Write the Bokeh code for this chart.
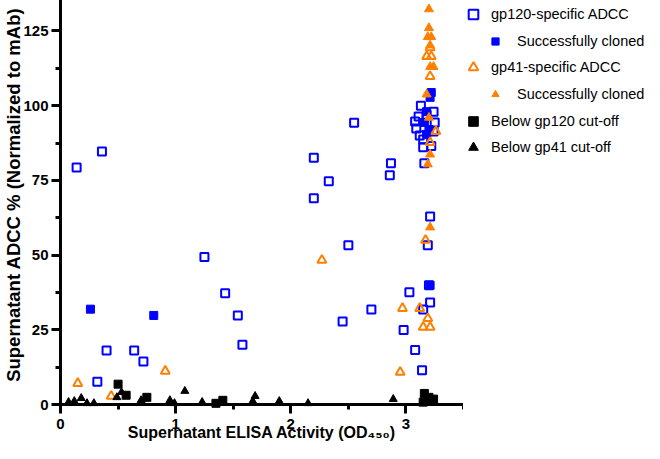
from bokeh.plotting import figure
from bokeh.layouts import row
from bokeh.models import Range1d, SingleIntervalTicker, Legend, LegendItem
from bokeh.embed import file_html
from bokeh.resources import INLINE

# ---------------- data ----------------
gp120_adcc_x = [0.14, 0.36, 0.32, 0.40, 0.64, 0.72, 1.25, 1.43, 1.54, 1.58,
                2.20, 2.33, 2.20, 2.55, 2.50, 2.45, 2.70, 2.87, 2.86, 3.03,
                2.98, 3.08, 3.14, 3.15, 3.21, 3.20, 3.21, 3.19, 3.13, 3.11,
                3.24, 3.08, 3.25, 3.09, 3.24, 3.15, 3.22, 3.15, 3.16, 3.18, 3.12]
gp120_adcc_y = [79.3, 84.7, 7.6, 18.1, 18.1, 14.4, 49.4, 37.2, 29.8, 20.0,
                82.6, 74.7, 69.0, 94.3, 53.3, 27.8, 31.8, 80.7, 76.7, 37.6,
                24.9, 18.2, 11.5, 31.8, 34.1, 39.9, 62.9, 53.3, 100.0, 96.4,
                98.0, 94.7, 94.4, 92.4, 91.4, 88.7, 86.5, 86.1, 80.7, 97.0, 90.0]

gp120_cloned_x = [0.26, 0.81, 3.22, 3.21, 3.18, 3.20, 3.18, 3.16, 3.21]
gp120_cloned_y = [31.9, 29.8, 104.4, 102.8, 98.0, 92.0, 90.4, 94.4, 39.9]

gp41_adcc_x = [0.15, 0.44, 0.91, 2.27, 2.95, 2.97, 3.12, 3.19, 3.15, 3.21,
               3.17, 3.26, 3.21, 3.21, 3.18, 3.22, 3.21]
gp41_adcc_y = [7.1, 2.8, 11.2, 48.3, 10.8, 32.2, 32.2, 28.8, 25.9, 25.9,
               55.0, 91.4, 87.7, 119.4, 116.5, 116.5, 109.8]

gp41_cloned_x = [3.20, 3.20, 3.22, 3.19, 3.21, 3.21, 3.24, 3.20, 3.21, 3.19, 3.18, 3.21]
gp41_cloned_y = [132.3, 126.0, 123.0, 123.0, 120.2, 113.0, 113.0, 96.0, 83.7, 80.4, 103.8, 59.3]

below_gp120_x = [0.50, 0.57, 0.75, 1.35, 1.41, 3.16, 3.20, 3.15, 3.22, 3.24]
below_gp120_y = [6.8, 3.1, 2.4, 0.4, 1.4, 3.7, 2.4, 0.8, 1.1, 1.8]

below_gp41_x = [0.07, 0.12, 0.18, 0.23, 0.29, 0.49, 0.53, 0.70, 0.95, 0.99,
                1.08, 1.23, 1.67, 1.69, 1.90, 2.15, 2.89, 3.14, 3.18]
below_gp41_y = [0.8, 1.1, 2.1, 0.4, 0.4, 2.4, 4.1, 1.4, 1.4, 0.4,
                4.5, 0.8, 1.1, 2.8, 1.1, 0.4, 1.8, 0.4, 0.6]

legend_labels = ["gp120-specific ADCC", "Successfully cloned", "gp41-specific ADCC",
                 "Successfully cloned", "Below gp120 cut-off", "Below gp41 cut-off"]

x_label = "Supernatant ELISA Activity (OD\u2084\u2085\u2080)"
y_label = "Supernatant ADCC % (Normalized to mAb)"

BLUE = "#0000ff"
ORANGE = "#ff8000"
BLACK = "#000000"
FONT = "Liberation Sans"

# series styles: (marker, size, fill, line, line_width)
styles = [
    ("square", 8, None, BLUE, 2),
    ("square", 8, BLUE, BLUE, 1),
    ("triangle", 9, None, ORANGE, 2),
    ("triangle", 9, ORANGE, ORANGE, 1),
    ("square", 8, BLACK, BLACK, 1),
    ("triangle", 8, BLACK, BLACK, 1),
]
series = [
    (gp120_adcc_x, gp120_adcc_y),
    (gp120_cloned_x, gp120_cloned_y),
    (gp41_adcc_x, gp41_adcc_y),
    (gp41_cloned_x, gp41_cloned_y),
    (below_gp120_x, below_gp120_y),
    (below_gp41_x, below_gp41_y),
]

# ---------------- main figure ----------------
p = figure(width=463, height=443, output_backend="svg", toolbar_location=None,
           x_range=Range1d(0, 3.5), y_range=Range1d(0, 135.2),
           min_border_left=58, min_border_right=0, min_border_top=0, min_border_bottom=38)
p.grid.visible = False
p.outline_line_color = None
p.background_fill_color = "white"
p.border_fill_color = "white"

p.xaxis.ticker = SingleIntervalTicker(interval=1, num_minor_ticks=2)
p.yaxis.ticker = SingleIntervalTicker(interval=25, num_minor_ticks=2)
for ax in (p.xaxis[0], p.yaxis[0]):
    ax.axis_line_width = 3
    ax.axis_line_cap = "square"
    ax.major_tick_line_width = 3
    ax.minor_tick_line_width = 3
    ax.major_tick_out = 9
    ax.major_tick_in = 0
    ax.minor_tick_out = 5
    ax.minor_tick_in = 0
    ax.major_label_text_font = FONT
    ax.major_label_text_font_style = "bold"
    ax.major_label_text_font_size = "15px"
    ax.major_label_text_color = "black"
    ax.axis_label_text_font = FONT
    ax.axis_label_text_font_style = "bold"
    ax.axis_label_text_color = "black"
p.xaxis.axis_label_text_font_size = "16px"
p.yaxis.axis_label_text_font_size = "18.5px"
p.xaxis.major_label_standoff = 5
p.yaxis.major_label_standoff = 3
p.xaxis.axis_label = x_label
# three leading no-break spaces nudge the centred title slightly upwards, as in the reference
p.yaxis.axis_label = "\u00a0\u00a0\u00a0" + y_label
p.xaxis.axis_label_standoff = -8
p.yaxis.axis_label_standoff = -4

for (xs, ys), (mk, sz, fc, lc, lw) in zip(series, styles):
    p.scatter(xs, ys, marker=mk, size=sz, fill_color=fc, line_color=lc,
              line_width=lw, level="overlay")

# ---------------- legend figure ----------------
leg = figure(width=181, height=443, output_backend="svg", toolbar_location=None,
             x_axis_type=None, y_axis_type=None, x_range=Range1d(0, 1), y_range=Range1d(0, 1),
             min_border_left=0, min_border_right=0, min_border_top=0, min_border_bottom=38)
leg.grid.visible = False
leg.outline_line_color = None
leg.background_fill_color = "white"
leg.border_fill_color = "white"

# legend swatches: one hidden point each, outside the visible range
keys = []
for (mk, sz, fc, lc, lw) in styles:
    keys.append(leg.scatter([-5], [-5], marker=mk, size=sz, fill_color=fc, line_color=lc,
                            line_width=lw))

FRAME_H = 405
row_centers = [15, 41.7, 68.3, 95, 121.7, 148.3]
marker_x = [10, 32, 10, 32, 10, 10]      # swatch centre, px from legend panel's left edge
text_x = [28, 54, 28, 54, 28, 28]        # label start, px from legend panel's left edge
glyphs = [24, 18, 24, 18, 24, 24]
for lab, rend, yc, mx, tx, g in zip(legend_labels, keys, row_centers, marker_x, text_x, glyphs):
    lg = Legend(items=[LegendItem(label=lab, renderers=[rend])],
                location=(mx - g // 2, FRAME_H - g / 2 - yc),
                padding=0, margin=0, spacing=0, border_line_alpha=0,
                background_fill_alpha=0, glyph_width=g, glyph_height=g,
                label_height=g, label_standoff=int(tx - (mx + g // 2)),
                label_text_font=FONT, label_text_font_size="14.5px",
                label_text_color="black")
    leg.add_layout(lg)

layout = row(p, leg)
open("out.html", "w").write(file_html(layout, INLINE))
